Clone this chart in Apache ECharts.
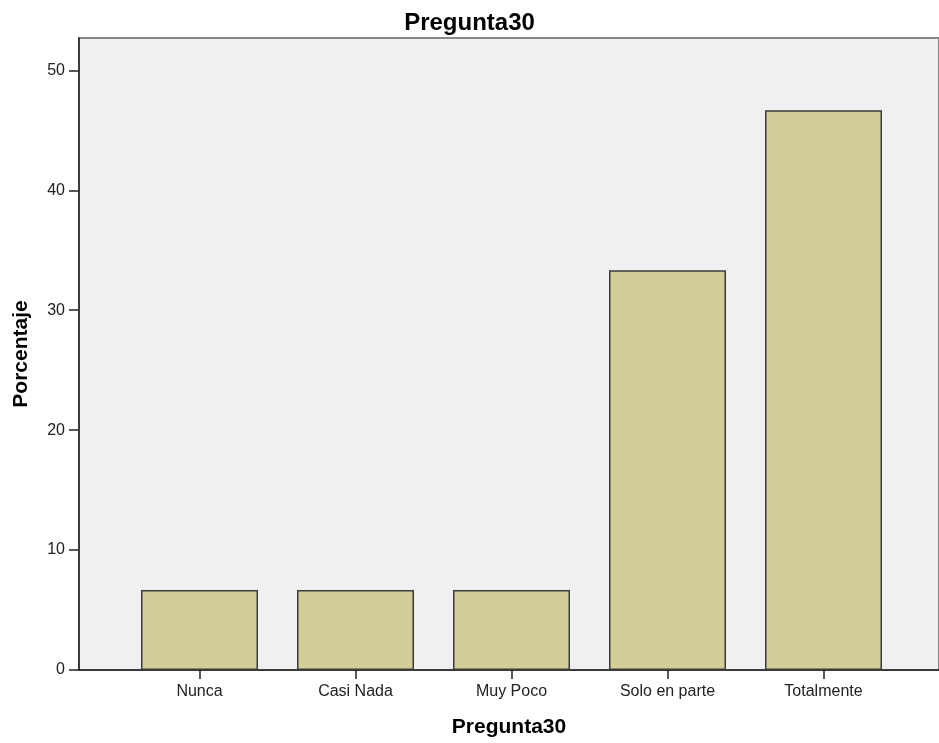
<!DOCTYPE html>
<html>
<head>
<meta charset="utf-8">
<script src="https://cdn.jsdelivr.net/npm/echarts@6/dist/echarts.min.js"></script>
<style>
  html, body { margin: 0; padding: 0; background: #fff; }
  #chart { width: 939px; height: 743px; }
</style>
</head>
<body>
<div id="chart"></div>
<script>
  const categories = ['Nunca', 'Casi Nada', 'Muy Poco', 'Solo en parte', 'Totalmente'];
  const percentages = [6.67, 6.67, 6.67, 33.33, 46.67];
  const yTicks = [0, 10, 20, 30, 40, 50];

  const font = 'Liberation Sans, Arial, sans-serif';
  const yMax = 52.7;

  const chart = echarts.init(document.getElementById('chart'));
  chart.setOption({
    animation: false,
    title: {
      text: 'Pregunta30',
      left: 'center',
      top: 6,
      textStyle: { fontFamily: font, fontSize: 24, fontWeight: 'bold', color: '#000' }
    },
    grid: [
      // plot frame / background
      { left: 79, top: 38, right: -2, bottom: 73, show: true, backgroundColor: '#f0f0f0', borderColor: '#888', borderWidth: 2 },
      // bars
      { left: 121.5, top: 38, width: 780, bottom: 73 }
    ],
    xAxis: [
      {
        gridIndex: 0, type: 'value', min: 0, max: 1,
        name: 'Pregunta30', nameLocation: 'middle', nameGap: 47,
        nameTextStyle: { fontFamily: font, fontSize: 21, fontWeight: 'bold', color: '#000' },
        axisLine: { show: true, lineStyle: { color: '#222', width: 1.5 } },
        axisTick: { show: false }, axisLabel: { show: false }, splitLine: { show: false }
      },
      {
        gridIndex: 1, type: 'category', data: categories,
        axisLine: { show: false },
        axisTick: { show: true, alignWithLabel: true, length: 9, lineStyle: { color: '#222', width: 1.5 } },
        axisLabel: { fontFamily: font, fontSize: 16, color: '#222', margin: 14 }
      }
    ],
    yAxis: [
      {
        gridIndex: 0, type: 'value', min: 0, max: yMax, interval: 10,
        name: 'Porcentaje', nameLocation: 'middle', nameGap: 47,
        nameTextStyle: { fontFamily: font, fontSize: 21, fontWeight: 'bold', color: '#000' },
        axisLine: { show: true, lineStyle: { color: '#222', width: 1.5 } },
        axisTick: { show: true, length: 10, lineStyle: { color: '#222', width: 1.5 } },
        axisLabel: {
          fontFamily: font, fontSize: 16, color: '#222', margin: 14, showMaxLabel: false,
          formatter: v => yTicks.includes(v) ? String(v) : ''
        },
        splitLine: { show: false }
      },
      {
        gridIndex: 1, type: 'value', min: 0, max: yMax, show: false
      }
    ],
    series: [{
      type: 'bar',
      xAxisIndex: 1,
      yAxisIndex: 1,
      data: percentages,
      barWidth: 117,
      itemStyle: { color: '#d3ce97', borderColor: '#3c3c3c', borderWidth: 1.5 }
    }]
  });
</script>
</body>
</html>
